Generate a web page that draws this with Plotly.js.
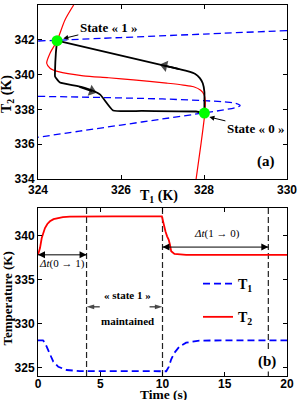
<!DOCTYPE html>
<html><head><meta charset="utf-8">
<script src="https://cdn.plot.ly/plotly-3.0.1.min.js"></script>
<style>html,body{margin:0;padding:0;background:#fff}#c{width:300px;height:400px}</style>
</head><body><div id="c"></div>
<script>
// ---- (a) phase plane ----
var blueUpT1 = [330, 328, 326, 324];
var blueUpT2 = [342.53, 342.33, 342.13, 341.93];
var blueLowT1 = [324, 325, 326, 327, 328, 328.5, 328.75, 328.87, 328.75, 328.5, 328, 327, 326, 325, 324];
var blueLowT2 = [338.75, 338.71, 338.66, 338.6, 338.5, 338.43, 338.35, 338.22, 338.1, 337.98, 337.8, 337.45, 337.1, 336.75, 336.4];
var redT1 = [324.86, 324.65, 324.46, 324.29, 324.21, 324.29, 324.49, 325.09, 325.7, 326.3, 327.1, 327.5, 327.75, 327.92, 328.0, 328.03, 328.02, 327.93, 327.81];
var redT2 = [344, 343.14, 341.95, 341.23, 340.65, 340.37, 340.17, 339.93, 339.82, 339.7, 339.51, 339.4, 339.3, 339.1, 338.85, 338.5, 337.8, 336.06, 334];
var up01T1 = [328.01, 328.01, 328.01, 327.97, 327.9, 327.78, 327.6, 327.17, 324.46];
var up01T2 = [337.79, 338.3, 339.0, 339.5, 339.8, 340.05, 340.2, 340.45, 341.95];
var low10T1 = [324.46, 324.43, 324.41, 324.41, 324.53, 324.93, 325.25, 325.5, 325.81, 326.5, 327.81, 328.01];
var low10T2 = [341.95, 341.23, 340.2, 339.89, 339.54, 339.35, 339.14, 338.85, 337.94, 337.91, 337.88, 337.79];
var stateT1 = [324.46, 328.01];
var stateT2 = [341.95, 337.79];
var arrowUpT1 = [327.4, 327.05], arrowUpT2 = [340.32, 340.51];
var arrowLowT1 = [325.0, 325.3], arrowLowT2 = [339.3, 339.05];
// ---- (b) time series ----
var timeT2 = [0, 0.16, 0.3, 0.45, 0.56, 0.75, 0.96, 1.25, 1.63, 2.0, 2.56, 3.5, 6, 9.95, 10.1, 10.24, 10.37, 10.5, 10.6, 10.7, 10.96, 11.4, 11.9, 15, 20];
var valT2 = [337.8, 338.57, 339.7, 340.35, 340.84, 341.3, 341.6, 341.85, 341.98, 342.08, 342.14, 342.16, 342.16, 342.16, 341.2, 340.45, 339.9, 339.5, 338.95, 338.2, 337.9, 337.82, 337.8, 337.8, 337.8];
var timeT1 = [0, 0.4, 0.55, 0.7, 0.96, 1.23, 1.63, 2.3, 3.36, 5, 10.3, 10.5, 10.7, 10.96, 11.36, 11.9, 12.96, 15, 20];
var valT1 = [328.1, 328.1, 327.85, 327.4, 326.44, 325.68, 325.1, 324.74, 324.62, 324.6, 324.6, 325.1, 325.95, 326.7, 327.4, 327.84, 328.07, 328.1, 328.1];
var markTimes = [3.9, 10, 18.5];
var dt01Times = [0, 3.9], dt01T = [337.8, 337.8];
var dt10Times = [10, 18.5], dt10T = [338.68, 338.68];
var keepLeftTimes = [4.96, 3.9], keepRightTimes = [8.96, 10], keepT = [331.9, 331.9];

var serif = 'Liberation Serif, Times New Roman, serif';
var sans = 'Liberation Sans, Arial, sans-serif';

function arrowTrace(xs, ys, xa, ya, w, sym, sz) {
  return {x: xs, y: ys, xaxis: xa, yaxis: ya, mode: 'lines+markers', showlegend: false, hoverinfo: 'skip',
    line: {color: '#000', width: w},
    marker: {symbol: sym, angleref: 'previous', size: [0, sz], color: '#000', line: {width: 0}}};
}
function dblArrow(xs, ys) {
  return {x: xs, y: ys, xaxis: 'x2', yaxis: 'y2', mode: 'lines+markers', showlegend: false, hoverinfo: 'skip',
    line: {color: '#000', width: 1},
    marker: {symbol: ['arrow-left', 'arrow-right'], size: 7, color: '#000', line: {width: 0}}};
}

var traces = [
  {x: blueUpT1.concat([null]).concat(blueLowT1), y: blueUpT2.concat([null]).concat(blueLowT2), xaxis:'x', yaxis:'y', mode:'lines',
   line:{color:'#0000ff', width:1.3, dash:'7px,4px', shape:'spline', smoothing:1}, showlegend:false, hoverinfo:'skip'},
  {x: redT1, y: redT2, xaxis:'x', yaxis:'y', mode:'lines', line:{color:'#ff0000', width:1.2, shape:'spline', smoothing:0.8}, showlegend:false},
  {x: up01T1, y: up01T2, xaxis:'x', yaxis:'y', mode:'lines', line:{color:'#000', width:1.8, shape:'spline', smoothing:0.5}, showlegend:false},
  {x: low10T1, y: low10T2, xaxis:'x', yaxis:'y', mode:'lines', line:{color:'#000', width:1.8, shape:'spline', smoothing:0.4}, showlegend:false},
  arrowTrace(arrowUpT1, arrowUpT2, 'x', 'y', 1.8, 'triangle-up', 10),
  arrowTrace(arrowLowT1, arrowLowT2, 'x', 'y', 1.8, 'triangle-up', 10),
  {x: stateT1, y: stateT2, xaxis:'x', yaxis:'y', mode:'markers', marker:{color:'#00ff00', size:11, line:{width:0}}, showlegend:false},
  {x: timeT1, y: valT1, xaxis:'x2', yaxis:'y2', mode:'lines', name:'T<sub>1</sub>', legendgroup:'a',
   line:{color:'#0000ff', width:1.8, dash:'7px,4px'}},
  {x: timeT2, y: valT2, xaxis:'x2', yaxis:'y2', mode:'lines', name:'T<sub>2</sub>', legendgroup:'b',
   line:{color:'#ff0000', width:1.8}},
  dblArrow(dt01Times, dt01T),
  dblArrow(dt10Times, dt10T),
  arrowTrace(keepLeftTimes, keepT, 'x2', 'y2', 1, 'arrow', 8),
  arrowTrace(keepRightTimes, keepT, 'x2', 'y2', 1, 'arrow', 8)
];

var axBase = {showgrid:false, zeroline:false, showline:true, linecolor:'#000', linewidth:1, mirror:'allticks',
  ticks:'inside', ticklen:4, tickcolor:'#000', tickwidth:1,
  tickfont:{family:sans, size:12, color:'#000', weight:'bold'}};
function ax(o){ return Object.assign({}, axBase, o); }

var ann = [];
function A(o){ ann.push(Object.assign({showarrow:false, xanchor:'center', yanchor:'middle',
  font:{family:serif, size:13, color:'#000', weight:'bold'}}, o)); }
// axis titles
A({xref:'paper', yref:'paper', x:0, xshift:-31, y:0.760, text:'T<sub>2</sub> (K)', textangle:-90, font:{family:serif,size:14,color:'#000',weight:'bold'}});
A({xref:'paper', yref:'paper', x:0.484, y:0.485, text:'T<sub>1</sub> (K)', font:{family:serif,size:14,color:'#000',weight:'bold'}});
A({xref:'paper', yref:'paper', x:0, xshift:-31, y:0.209, text:'Temperature (K)', textangle:-90});
A({xref:'paper', yref:'paper', x:0.504, y:-0.05, text:'Time (s)', font:{family:serif,size:13.5,color:'#000',weight:'bold'}});
// state labels
A({xref:'x', yref:'y', x:324.61, y:342.07, text:'State « 1 »', showarrow:true, ax:45, ay:-11, arrowhead:2, arrowsize:1, arrowwidth:1, arrowcolor:'#000'});
A({xref:'x', yref:'y', x:328.13, y:337.56, text:'State « 0 »', showarrow:true, ax:46, ay:11, arrowhead:2, arrowsize:1, arrowwidth:1, arrowcolor:'#000'});
A({xref:'x', yref:'y', x:329.5, y:335.0, text:'(a)', font:{family:serif,size:15,color:'#000',weight:'bold'}});
// (b) annotations
A({xref:'x2', yref:'y2', x:1.9, y:336.8, text:'<i>Δt</i>(0 → 1)', font:{family:serif,size:11,color:'#000'}});
A({xref:'x2', yref:'y2', x:14.36, y:340.27, text:'<i>Δt</i>(1 → 0)', font:{family:serif,size:11,color:'#000'}});
A({xref:'x2', yref:'y2', x:7.2, y:333.26, text:'« state 1 »', font:{family:serif,size:11,color:'#000',weight:'bold'}});
A({xref:'x2', yref:'y2', x:7.16, y:330.34, text:'maintained', font:{family:serif,size:11,color:'#000',weight:'bold'}});
A({xref:'x2', yref:'y2', x:18.36, y:325.7, text:'(b)', bgcolor:'#fff', font:{family:serif,size:15,color:'#000',weight:'bold'}});

var shapes = markTimes.map(function(t){
  return {type:'line', xref:'x2', yref:'y2 domain', x0:t, x1:t, y0:0, y1:1, layer:'below', line:{color:'#222', width:1.2, dash:'6px,3px'}};
});

var layout = {
  width:300, height:400, margin:{l:38, r:13, t:5, b:24}, paper_bgcolor:'#fff', plot_bgcolor:'#fff',
  xaxis: ax({domain:[0,1], range:[324,330], tickvals:[324,326,328,330], anchor:'y'}),
  yaxis: ax({domain:[0.531,1], range:[334,344], tickvals:[334,336,338,340,342,344], anchor:'x'}),
  xaxis2: ax({domain:[0,1], range:[0,20], tickvals:[0,5,10,15,20], anchor:'y2', ticklabelstandoff:-3}),
  yaxis2: ax({domain:[0,0.4528], range:[324.06,343.11], tickvals:[325,330,335,340], anchor:'x2'}),
  showlegend:true,
  legend:{x:0.6426, y:0.291, xanchor:'left', yanchor:'top', bgcolor:'rgba(0,0,0,0)', borderwidth:0,
    traceorder:'grouped', tracegroupgap:12, font:{family:serif, size:14, color:'#000', weight:'bold'}},
  annotations: ann, shapes: shapes
};
Plotly.newPlot('c', traces, layout, {staticPlot:true, displayModeBar:false});
</script></body></html>
